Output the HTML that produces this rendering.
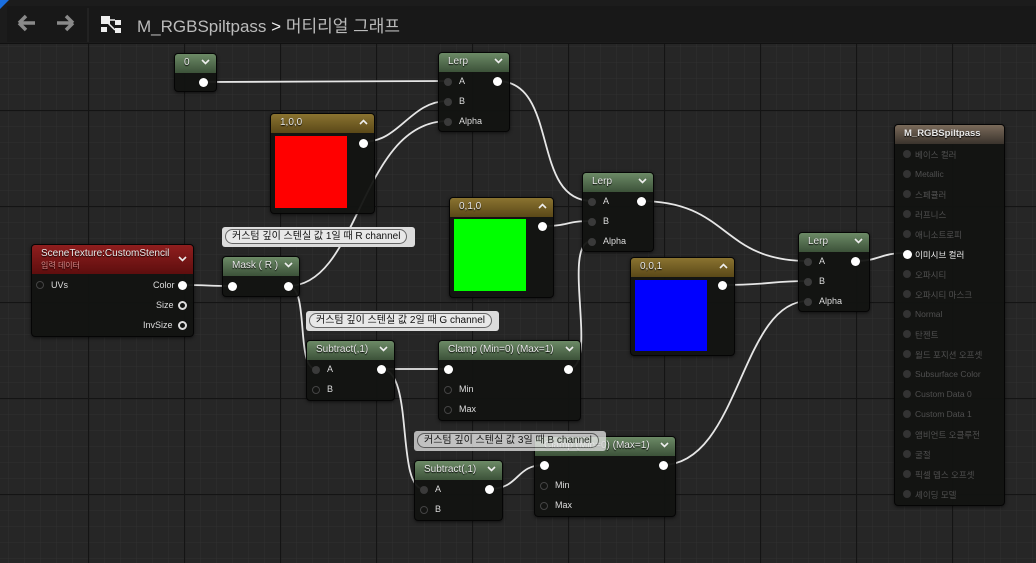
<!DOCTYPE html>
<html><head><meta charset="utf-8">
<style>
*{margin:0;padding:0;box-sizing:border-box}
body{width:1036px;height:563px;overflow:hidden;background:#262626;font-family:"Liberation Sans","Noto Sans CJK KR",sans-serif;position:relative}
#grid{position:absolute;left:0;top:0}
.top{position:absolute;left:0;top:0;width:1036px;height:44px;background:#1c1c1c;border-bottom:1px solid #111}
.top .inner{position:absolute;left:7px;top:6px;width:1029px;height:36px;background:#181818}
.node{position:absolute;background:rgba(18,19,17,0.95);border:1px solid #050505;border-radius:4px;box-shadow:0 1px 3px rgba(0,0,0,.6);color:#d8d8d8;font-size:10px}
.hd{height:19px;border-radius:3px 3px 0 0;padding:3px 0 0 9px;font-size:10px;color:#e8e8e8;position:relative;text-shadow:0 1px 1px #000}
.g{background:linear-gradient(180deg,#6c8a66,#3c5239)}
.y{background:linear-gradient(180deg,#8a7330,#5a4818)}
.r{background:linear-gradient(180deg,#8f1e1e,#5e0e0e)}
.b{background:linear-gradient(180deg,#7a6a5a,#3a332c)}
.chev{position:absolute;right:6px;top:5px;width:9px;height:6px}
.pin{position:absolute;width:8px;height:8px;border-radius:50%;background:#3a3a3a}
.pw{position:absolute;width:9px;height:9px;border-radius:50%;background:#fff}
.po{position:absolute;width:9px;height:9px;border-radius:50%;border:2px solid #ddd}
.lbl{position:absolute;font-size:9px;color:#ddd}
.cm{position:absolute;height:20px;background:#dcdcdc;border-radius:3px;font-size:10px;color:#111;padding:2px 3px}
.cm span{display:inline-block;border:1px solid #666;border-radius:8px;padding:0 6px;background:#e8e8e8;line-height:13px}
.ml{position:absolute;left:20px;font-size:8.5px;color:#505050}
.mp{position:absolute;left:8px;width:8px;height:8px;border-radius:50%;background:#333}
</style></head><body>
<svg width="0" height="0" style="position:absolute"><defs>
<symbol id="dn" viewBox="0 0 9 6"><path d="M1 1L4.5 4.5L8 1" stroke="#eee" stroke-width="1.6" fill="none"/></symbol>
<symbol id="up" viewBox="0 0 9 6"><path d="M1 5L4.5 1.5L8 5" stroke="#eee" stroke-width="1.6" fill="none"/></symbol>
</defs></svg>
<svg id="grid" width="1036" height="563">
<defs>
<pattern id="mn" x="8" y="14" width="16" height="16" patternUnits="userSpaceOnUse"><path d="M0 0H16M0 0V16" stroke="#303030" stroke-width="1" fill="none"/></pattern>
<pattern id="mj" x="88" y="110" width="96" height="96" patternUnits="userSpaceOnUse"><path d="M0 0.5H96M0.5 0V96" stroke="#141414" stroke-width="1.2" fill="none"/></pattern>
</defs>
<rect width="1036" height="563" fill="url(#mn)"/>
<rect width="1036" height="563" fill="url(#mj)"/>
</svg>
<div class="top"><div class="inner"></div>
<div style="position:absolute;left:0;top:0;width:0;height:0;border-top:9px solid #1a6fe0;border-right:9px solid transparent"></div>
<svg style="position:absolute;left:16px;top:14px" width="70" height="18"><path d="M3 9H19M3 9L10 2M3 9L10 16" stroke="#8a8a8a" stroke-width="3.5" fill="none"/><path d="M57 9H41M57 9L50 2M57 9L50 16" stroke="#8a8a8a" stroke-width="3.5" fill="none"/></svg>
<div style="position:absolute;left:87px;top:8px;width:2px;height:34px;background:#222"></div>
<svg style="position:absolute;left:100px;top:14px" width="24" height="22"><rect x="1" y="2" width="9" height="8" fill="#eee"/><rect x="1" y="13" width="6" height="5" fill="#eee"/><rect x="15" y="6" width="6" height="5" fill="#eee"/><rect x="15" y="14" width="6" height="5" fill="#eee"/><path d="M10 6H15M8 9L15 16" stroke="#eee" stroke-width="1.5"/></svg>
<div style="position:absolute;left:137px;top:12px;font-size:17px;color:#bbb">M_RGBSpiltpass <span style="color:#eee">&gt;</span> 머티리얼 그래프</div>
</div>

<svg style="position:absolute;left:0;top:0" width="1036" height="563" fill="none" stroke="#e6e6e6" stroke-width="1.8">
<path d="M205 82 C300 82,350 81,448 81"/>
<path d="M363 142 C400 142,410 101,448 101"/>
<path d="M288 286 C360 286,360 121,448 121"/>
<path d="M497 81 C560 81,530 201,592 201"/>
<path d="M542 226 C570 226,565 221,592 221"/>
<path d="M568 369 C600 369,560 241,592 241"/>
<path d="M640 201 C730 201,720 261,808 261"/>
<path d="M722 285 C770 285,770 281,808 281"/>
<path d="M662 465 C740 465,740 301,808 301"/>
<path d="M855 261 C880 261,880 253,905 253"/>
<path d="M182 285 C210 285,205 286,232 286"/>
<path d="M288 286 C310 286,295 369,316 369"/>
<path d="M381 369 C410 369,415 369,444 369"/>
<path d="M381 369 C415 369,395 489,424 489"/>
<path d="M489 489 C520 489,515 465,544 465"/>
</svg>

<div class="node" style="left:174px;top:53px;width:43px;height:39px"><div class="hd g">0<svg class="chev"><use href="#dn"/></svg></div><div class="pw" style="left:24px;top:24px"></div></div>
<div class="node" style="left:438px;top:52px;width:72px;height:80px"><div class="hd g">Lerp<svg class="chev"><use href="#dn"/></svg></div>
<div class="pin" style="left:5px;top:25px"></div><div class="lbl" style="left:20px;top:23px">A</div>
<div class="pin" style="left:5px;top:45px"></div><div class="lbl" style="left:20px;top:43px">B</div>
<div class="pin" style="left:5px;top:65px"></div><div class="lbl" style="left:20px;top:63px">Alpha</div>
<div class="pw" style="left:54px;top:24px"></div></div>
<div class="node" style="left:270px;top:113px;width:105px;height:101px"><div class="hd y">1,0,0<svg class="chev"><use href="#up"/></svg></div>
<div style="position:absolute;left:4px;top:22px;width:72px;height:72px;background:#f00"></div><div class="pw" style="left:88px;top:25px"></div></div>
<div class="node" style="left:582px;top:172px;width:72px;height:80px"><div class="hd g">Lerp<svg class="chev"><use href="#dn"/></svg></div>
<div class="pin" style="left:5px;top:25px"></div><div class="lbl" style="left:20px;top:23px">A</div>
<div class="pin" style="left:5px;top:45px"></div><div class="lbl" style="left:20px;top:43px">B</div>
<div class="pin" style="left:5px;top:65px"></div><div class="lbl" style="left:20px;top:63px">Alpha</div>
<div class="pw" style="left:54px;top:24px"></div></div>
<div class="node" style="left:449px;top:197px;width:105px;height:101px"><div class="hd y">0,1,0<svg class="chev"><use href="#up"/></svg></div>
<div style="position:absolute;left:4px;top:21px;width:72px;height:72px;background:#0f0"></div><div class="pw" style="left:88px;top:24px"></div></div>
<div class="node" style="left:630px;top:257px;width:105px;height:99px"><div class="hd y">0,0,1<svg class="chev"><use href="#up"/></svg></div>
<div style="position:absolute;left:4px;top:22px;width:72px;height:71px;background:#00f"></div><div class="pw" style="left:87px;top:23px"></div></div>
<div class="node" style="left:798px;top:232px;width:72px;height:80px"><div class="hd g">Lerp<svg class="chev"><use href="#dn"/></svg></div>
<div class="pin" style="left:5px;top:25px"></div><div class="lbl" style="left:20px;top:23px">A</div>
<div class="pin" style="left:5px;top:45px"></div><div class="lbl" style="left:20px;top:43px">B</div>
<div class="pin" style="left:5px;top:65px"></div><div class="lbl" style="left:20px;top:63px">Alpha</div>
<div class="pw" style="left:52px;top:24px"></div></div>
<div class="node" style="left:31px;top:244px;width:163px;height:93px"><div class="hd r" style="height:29px;padding-top:3px">SceneTexture:CustomStencil<div style="font-size:8px;color:#d98a8a;margin-top:1px">입력 데이터</div><svg class="chev" style="top:11px"><use href="#dn"/></svg></div>
<div class="po" style="left:4px;top:36px;border-color:#444;width:8px;height:8px;border-width:1.5px"></div><div class="lbl" style="left:19px;top:35px">UVs</div>
<div class="lbl" style="left:121px;top:35px">Color</div><div class="pw" style="left:146px;top:36px"></div>
<div class="lbl" style="left:124px;top:55px">Size</div><div class="po" style="left:146px;top:56px"></div>
<div class="lbl" style="left:111px;top:75px">InvSize</div><div class="po" style="left:146px;top:76px"></div></div>
<div class="cm" style="left:222px;top:227px;width:193px"><span>커스텀 깊이 스텐실 값 1일 때 R channel</span></div>
<div class="node" style="left:222px;top:256px;width:78px;height:41px"><div class="hd g">Mask ( R )<svg class="chev"><use href="#dn"/></svg></div>
<div class="pw" style="left:5px;top:25px"></div><div class="pw" style="left:61px;top:25px"></div></div>
<div class="cm" style="left:306px;top:311px;width:193px"><span>커스텀 깊이 스텐실 값 2일 때 G channel</span></div>
<div class="node" style="left:306px;top:340px;width:89px;height:61px"><div class="hd g">Subtract(,1)<svg class="chev"><use href="#dn"/></svg></div>
<div class="pin" style="left:5px;top:25px"></div><div class="lbl" style="left:20px;top:23px">A</div>
<div class="po" style="left:5px;top:45px;border-color:#444;width:8px;height:8px;border-width:1.5px"></div><div class="lbl" style="left:20px;top:43px">B</div>
<div class="pw" style="left:70px;top:24px"></div></div>
<div class="node" style="left:438px;top:340px;width:143px;height:81px"><div class="hd g">Clamp (Min=0) (Max=1)<svg class="chev"><use href="#dn"/></svg></div>
<div class="pw" style="left:5px;top:24px"></div>
<div class="po" style="left:5px;top:45px;border-color:#444;width:8px;height:8px;border-width:1.5px"></div><div class="lbl" style="left:20px;top:43px">Min</div>
<div class="po" style="left:5px;top:65px;border-color:#444;width:8px;height:8px;border-width:1.5px"></div><div class="lbl" style="left:20px;top:63px">Max</div>
<div class="pw" style="left:125px;top:24px"></div></div>
<div class="node" style="left:414px;top:460px;width:89px;height:61px"><div class="hd g">Subtract(,1)<svg class="chev"><use href="#dn"/></svg></div>
<div class="pin" style="left:5px;top:25px"></div><div class="lbl" style="left:20px;top:23px">A</div>
<div class="po" style="left:5px;top:45px;border-color:#444;width:8px;height:8px;border-width:1.5px"></div><div class="lbl" style="left:20px;top:43px">B</div>
<div class="pw" style="left:70px;top:24px"></div></div>
<div class="node" style="left:534px;top:436px;width:142px;height:81px"><div class="hd g">Clamp (Min=0) (Max=1)<svg class="chev"><use href="#dn"/></svg></div>
<div class="pw" style="left:5px;top:24px"></div>
<div class="po" style="left:5px;top:45px;border-color:#444;width:8px;height:8px;border-width:1.5px"></div><div class="lbl" style="left:20px;top:43px">Min</div>
<div class="po" style="left:5px;top:65px;border-color:#444;width:8px;height:8px;border-width:1.5px"></div><div class="lbl" style="left:20px;top:63px">Max</div>
<div class="pw" style="left:124px;top:24px"></div></div>
<div class="cm" style="left:414px;top:431px;width:192px;opacity:0.8"><span>커스텀 깊이 스텐실 값 3일 때 B channel</span></div>
<div class="node" style="left:894px;top:124px;width:111px;height:382px"><div class="hd b" style="font-weight:bold;font-size:9.5px;padding-left:9px">M_RGBSpiltpass</div>
<div class="mp" style="top:25px"></div><div class="ml" style="top:24px">베이스 컬러</div>
<div class="mp" style="top:45px"></div><div class="ml" style="top:44px">Metallic</div>
<div class="mp" style="top:65px"></div><div class="ml" style="top:64px">스페큘러</div>
<div class="mp" style="top:85px"></div><div class="ml" style="top:84px">러프니스</div>
<div class="mp" style="top:105px"></div><div class="ml" style="top:104px">애니소트로피</div>
<div class="pw" style="left:8px;top:125px"></div><div class="ml" style="top:124px;color:#eee">이미시브 컬러</div>
<div class="mp" style="top:145px"></div><div class="ml" style="top:144px">오파시티</div>
<div class="mp" style="top:165px"></div><div class="ml" style="top:164px">오파시티 마스크</div>
<div class="mp" style="top:185px"></div><div class="ml" style="top:184px">Normal</div>
<div class="mp" style="top:205px"></div><div class="ml" style="top:204px">탄젠트</div>
<div class="mp" style="top:225px"></div><div class="ml" style="top:224px">월드 포지션 오프셋</div>
<div class="mp" style="top:245px"></div><div class="ml" style="top:244px">Subsurface Color</div>
<div class="mp" style="top:265px"></div><div class="ml" style="top:264px">Custom Data 0</div>
<div class="mp" style="top:285px"></div><div class="ml" style="top:284px">Custom Data 1</div>
<div class="mp" style="top:305px"></div><div class="ml" style="top:304px">앰비언트 오클루전</div>
<div class="mp" style="top:325px"></div><div class="ml" style="top:324px">굴절</div>
<div class="mp" style="top:345px"></div><div class="ml" style="top:344px">픽셀 뎁스 오프셋</div>
<div class="mp" style="top:365px"></div><div class="ml" style="top:364px">셰이딩 모델</div>
</div>
</body></html>
